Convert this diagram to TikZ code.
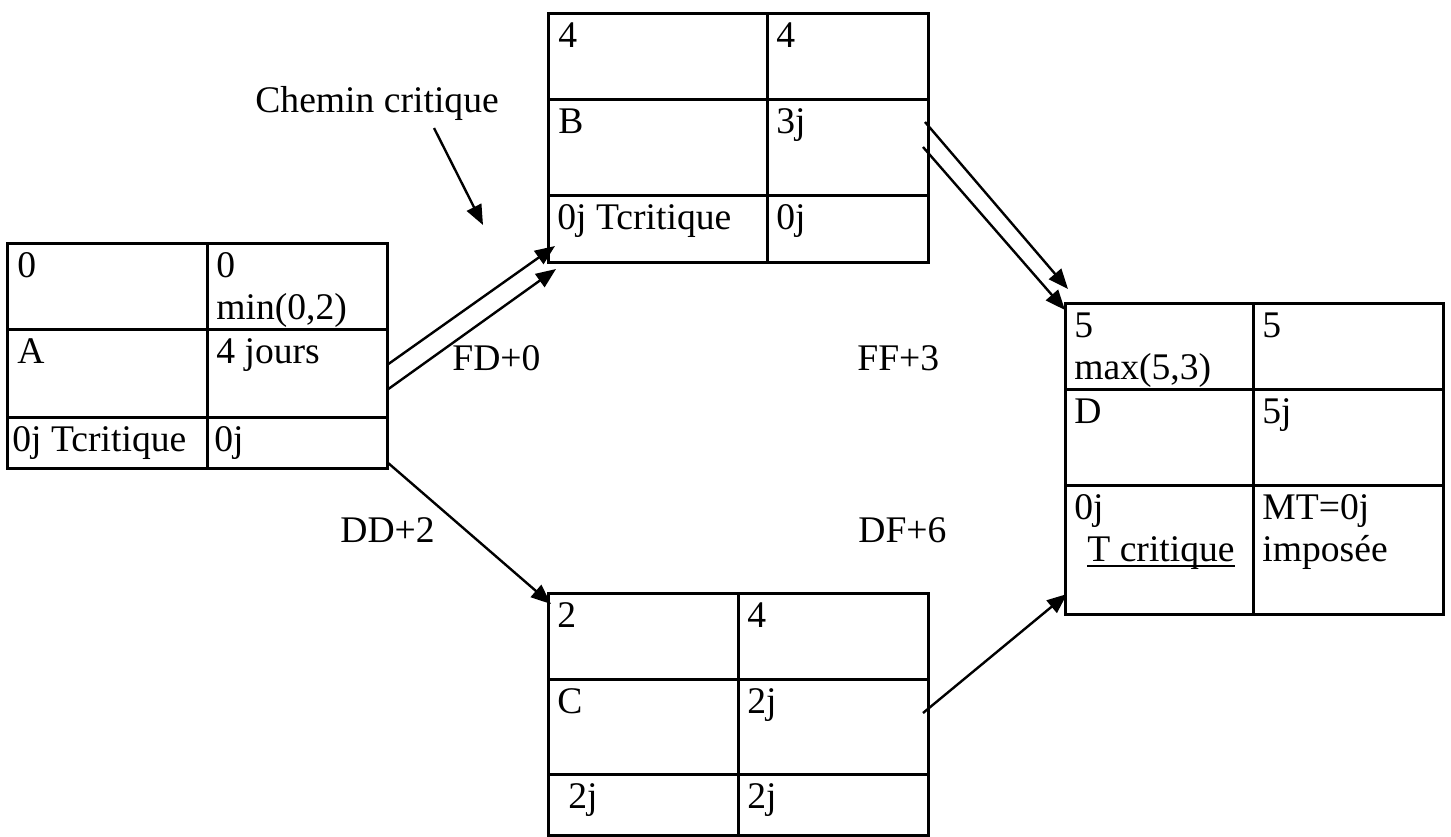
\documentclass[tikz,border=0pt]{standalone}
\usepackage{fontspec}
\setmainfont{Liberation Serif}
\usetikzlibrary{arrows.meta}
\begin{document}
\begin{tikzpicture}[x=0.5pt,y=-0.5pt,
  tabbox/.style={draw, line width=1.5pt, inner sep=0pt, outer sep=0pt, anchor=north west},
  grid/.style={line width=1.5pt},
  txt/.style={anchor=base west, inner sep=0pt, font=\fontsize{18.8}{22}\selectfont},
  conn/.style={line width=1.2pt, -{Triangle[length=10pt,width=8pt]}}]
\useasboundingbox (0,0) rectangle (1451,836);
% Box A
\node[tabbox, minimum width=190pt, minimum height=112.5pt] (A) at (7,243) {};
\draw[grid] (7,329) -- (387,329) (7,417) -- (387,417) (207,243) -- (207,468);
\node[txt] (a1) at (17,277) {0};
\node[txt] (a2) at (216,277) {0};
\node[txt] (a3) at (216,319) {min(0,2)};
\node[txt] (a4) at (17,363) {A};
\node[txt] (a5) at (216,363) {4 jours};
\node[txt] (a6) at (12,451) {0j Tcritique};
\node[txt] (a7) at (214,451) {0j};
% Box B
\node[tabbox, minimum width=190pt, minimum height=124.5pt] (B) at (548,13) {};
\draw[grid] (548,99) -- (928,99) (548,195) -- (928,195) (767,13) -- (767,262);
\node[txt] (b1) at (558,47) {4};
\node[txt] (b2) at (776,47) {4};
\node[txt] (b3) at (558,133) {B};
\node[txt] (b4) at (776,133) {3j};
\node[txt] (b5) at (557,229) {0j Tcritique};
\node[txt] (b6) at (776,229) {0j};
% Box C
\node[tabbox, minimum width=190pt, minimum height=121pt] (C) at (548,593) {};
\draw[grid] (548,679) -- (928,679) (548,774) -- (928,774) (738,593) -- (738,835);
\node[txt] (c1) at (557,627) {2};
\node[txt] (c2) at (747,627) {4};
\node[txt] (c3) at (557,713) {C};
\node[txt] (c4) at (747,713) {2j};
\node[txt] (c5) at (568,808) {2j};
\node[txt] (c6) at (747,808) {2j};
% Box D
\node[tabbox, minimum width=189pt, minimum height=155.5pt] (D) at (1065,303) {};
\draw[grid] (1065,389) -- (1443,389) (1065,485) -- (1443,485) (1253,303) -- (1253,614);
\node[txt] (d1) at (1074,337) {5};
\node[txt] (d2) at (1074,379) {max(5,3)};
\node[txt] (d3) at (1262,337) {5};
\node[txt] (d4) at (1074,423) {D};
\node[txt] (d5) at (1262,423) {5j};
\node[txt] (d6) at (1074,519) {0j};
\node[txt] (d7) at (1087,561) {T critique};
\draw[line width=1pt] ([yshift=-2.5pt]d7.base west) -- ([yshift=-2.5pt]d7.base east);
\node[txt] (d8) at (1262,519) {MT=0j};
\node[txt] (d9) at (1262,561) {imposée};
% Labels
\node[txt] (lcc) at (255,112) {Chemin critique};
\node[txt] (lfd) at (452,370) {FD+0};
\node[txt] (lff) at (857,370) {FF+3};
\node[txt] (ldd) at (340,542) {DD+2};
\node[txt] (ldf) at (858,542) {DF+6};
% Connector end points
\coordinate (Ao1) at (387,365);
\coordinate (Ao2) at (387,390);
\coordinate (Ao3) at (387,462);
\coordinate (Bi1) at (555,246);
\coordinate (Bi2) at (556,269);
\coordinate (Ci1) at (551,604);
\coordinate (Bo1) at (925,122);
\coordinate (Bo2) at (923,147);
\coordinate (Di1) at (1068,289);
\coordinate (Di2) at (1065,310);
\coordinate (Co1) at (923,713);
\coordinate (Di3) at (1067,594);
\coordinate (CCs) at (434,128);
\coordinate (CCe) at (483,225);
% Connectors
\draw[conn] (Ao1) -- (Bi1);
\draw[conn] (Ao2) -- (Bi2);
\draw[conn] (Ao3) -- (Ci1);
\draw[conn] (Bo1) -- (Di1);
\draw[conn] (Bo2) -- (Di2);
\draw[conn] (Co1) -- (Di3);
\draw[conn] (CCs) -- (CCe);
\end{tikzpicture}
\end{document}
